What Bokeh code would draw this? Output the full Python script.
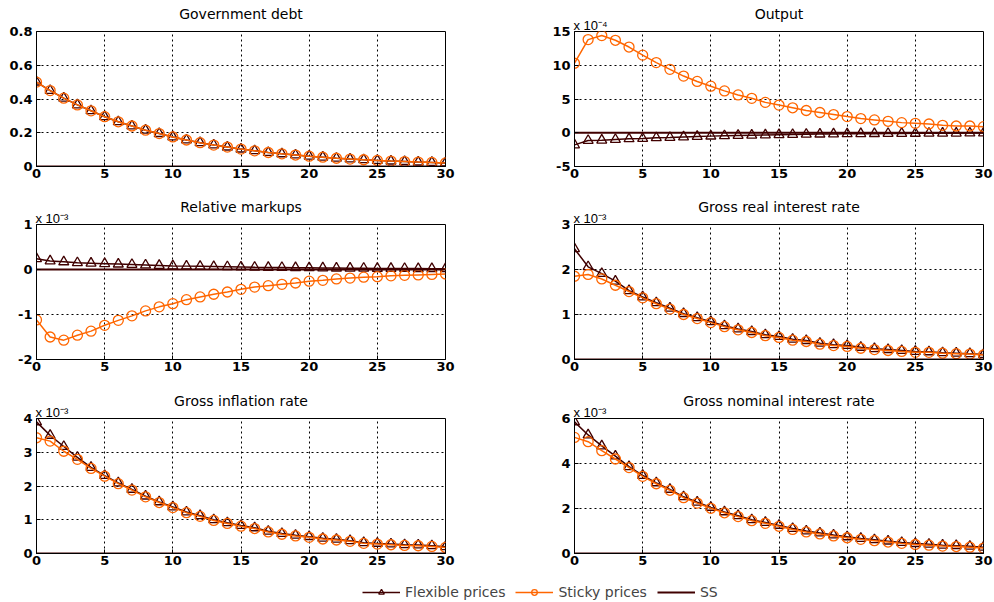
from bokeh.plotting import figure
from bokeh.models import Range1d, FixedTicker, Legend, LegendItem, CustomJSTickFormatter, Title
from bokeh.layouts import column, row
from bokeh.embed import file_html
from bokeh.resources import INLINE

periods = list(range(31))
x_ticks = [0, 5, 10, 15, 20, 25, 30]

debt_flex = [0.50, 0.45, 0.405, 0.365, 0.33, 0.295, 0.265, 0.24, 0.215, 0.195, 0.175, 0.157, 0.141, 0.127, 0.115,
             0.103, 0.093, 0.083, 0.075, 0.068, 0.061, 0.055, 0.049, 0.044, 0.040, 0.036, 0.032, 0.029, 0.026, 0.024, 0.021]
debt_sticky = [0.50, 0.45, 0.405, 0.365, 0.33, 0.295, 0.265, 0.24, 0.215, 0.195, 0.175, 0.157, 0.141, 0.127, 0.115,
               0.103, 0.093, 0.083, 0.075, 0.068, 0.061, 0.055, 0.049, 0.044, 0.040, 0.036, 0.032, 0.029, 0.026, 0.024, 0.021]

output_flex = [-1.8, -1.15, -1.1, -1.0, -0.9, -0.85, -0.75, -0.7, -0.62, -0.55, -0.5, -0.45, -0.4, -0.36, -0.32,
               -0.29, -0.26, -0.23, -0.2, -0.18, -0.16, -0.14, -0.13, -0.11, -0.1, -0.09, -0.08, -0.07, -0.06, -0.05, -0.05]
output_sticky = [10.3, 13.8, 14.4, 13.7, 12.7, 11.5, 10.4, 9.4, 8.4, 7.6, 6.9, 6.2, 5.6, 5.1, 4.5,
                 4.1, 3.7, 3.3, 3.0, 2.7, 2.4, 2.1, 1.9, 1.7, 1.5, 1.4, 1.3, 1.1, 1.0, 1.0, 0.9]

markup_flex = [0.24, 0.19, 0.17, 0.15, 0.14, 0.13, 0.12, 0.11, 0.10, 0.09, 0.08, 0.075, 0.07, 0.065, 0.06,
               0.055, 0.05, 0.047, 0.044, 0.04, 0.037, 0.034, 0.031, 0.029, 0.027, 0.025, 0.023, 0.021, 0.02, 0.019, 0.018]
markup_sticky = [-1.12, -1.50, -1.57, -1.46, -1.37, -1.24, -1.13, -1.03, -0.92, -0.83, -0.76, -0.67, -0.61, -0.55, -0.50,
                 -0.44, -0.39, -0.36, -0.33, -0.30, -0.26, -0.24, -0.21, -0.19, -0.17, -0.16, -0.14, -0.13, -0.12, -0.11, -0.10]

real_flex = [2.46, 2.06, 1.91, 1.74, 1.53, 1.39, 1.26, 1.14, 1.02, 0.93, 0.84, 0.75, 0.68, 0.62, 0.55,
             0.51, 0.45, 0.42, 0.36, 0.33, 0.31, 0.27, 0.24, 0.22, 0.20, 0.18, 0.17, 0.15, 0.14, 0.13, 0.11]
real_sticky = [1.85, 1.89, 1.79, 1.65, 1.51, 1.37, 1.24, 1.12, 1.00, 0.91, 0.82, 0.73, 0.66, 0.60, 0.53,
               0.49, 0.43, 0.40, 0.34, 0.31, 0.29, 0.25, 0.22, 0.20, 0.18, 0.16, 0.16, 0.14, 0.13, 0.12, 0.10]

infl_flex = [3.9, 3.5, 3.17, 2.85, 2.55, 2.31, 2.09, 1.90, 1.70, 1.53, 1.38, 1.23, 1.12, 1.00, 0.91,
             0.83, 0.76, 0.66, 0.59, 0.54, 0.50, 0.45, 0.42, 0.38, 0.32, 0.30, 0.28, 0.26, 0.25, 0.23, 0.20]
infl_sticky = [3.43, 3.33, 3.03, 2.79, 2.52, 2.29, 2.07, 1.88, 1.68, 1.51, 1.36, 1.21, 1.10, 0.98, 0.89,
               0.81, 0.74, 0.64, 0.57, 0.52, 0.48, 0.43, 0.40, 0.36, 0.30, 0.28, 0.26, 0.24, 0.23, 0.21, 0.18]

nom_flex = [5.85, 5.27, 4.78, 4.33, 3.86, 3.47, 3.14, 2.85, 2.52, 2.28, 2.05, 1.85, 1.68, 1.50, 1.38,
            1.25, 1.11, 1.00, 0.91, 0.82, 0.74, 0.67, 0.61, 0.55, 0.49, 0.44, 0.41, 0.37, 0.35, 0.32, 0.28]
nom_sticky = [5.16, 4.97, 4.57, 4.20, 3.82, 3.43, 3.10, 2.81, 2.48, 2.24, 2.01, 1.81, 1.64, 1.46, 1.34,
              1.21, 1.07, 0.96, 0.87, 0.78, 0.70, 0.63, 0.57, 0.51, 0.45, 0.40, 0.37, 0.33, 0.31, 0.28, 0.24]

steady_state = [0.0] * 31

FLEX_C = "#400000"
STICKY_C = "#ff6600"
FONT = "DejaVu Sans"
fmt = CustomJSTickFormatter(code="return String(Math.round(tick * 1000) / 1000);")


def panel(title, flex, sticky, ymin, ymax, yticks, exponent, left, top_border, height):
    if left:
        w, bl, br = 497, 36, 52
    else:
        w, bl, br = 497, 77, 11
    bb = height - top_border - 135
    p = figure(width=w, height=height, x_range=Range1d(0, 30), y_range=Range1d(ymin, ymax),
               output_backend="svg", toolbar_location=None,
               min_border_left=bl, min_border_right=br, min_border_top=top_border,
               min_border_bottom=bb)
    p.title_location = None
    exp_text = ("x 10" + exponent) if exponent else " "
    p.add_layout(Title(text=exp_text, align="left", vertical_align="bottom",
                       standoff=-3, offset=-1, text_font="Liberation Sans", text_font_size="13px",
                       text_font_style="normal", text_color="black"), "above")
    p.add_layout(Title(text=title, align="center", vertical_align="bottom", standoff=-9,
                       text_font=FONT, text_font_size="14px", text_font_style="normal",
                       text_color="black"), "above")
    p.outline_line_color = "black"
    p.outline_line_width = 1
    p.background_fill_color = "white"
    p.border_fill_color = "white"
    for ax in (p.xaxis, p.yaxis):
        ax.axis_line_color = "black"
        ax.major_tick_in = 4
        ax.major_tick_out = 0
        ax.minor_tick_line_color = None
        ax.major_label_text_font = FONT
        ax.major_label_text_font_size = "13px"
        ax.major_label_text_font_style = "bold"
        ax.major_label_text_color = "black"
        ax.formatter = fmt
    p.xaxis.ticker = FixedTicker(ticks=x_ticks)
    p.yaxis.ticker = FixedTicker(ticks=yticks)
    p.xaxis.major_label_standoff = 2
    p.yaxis.major_label_standoff = 4
    p.grid.grid_line_color = "black"
    p.grid.grid_line_dash = "2 3"
    p.grid.grid_line_width = 1

    p.line(periods, flex, line_color=FLEX_C, line_width=1.5)
    p.scatter(periods, flex, marker="triangle", size=10, line_color=FLEX_C, fill_color=None, line_width=1.3)
    p.line(periods, sticky, line_color=STICKY_C, line_width=1.5)
    p.scatter(periods, sticky, marker="circle", size=10, line_color=STICKY_C, fill_color=None, line_width=1.3)
    p.line(periods, steady_state, line_color=FLEX_C, line_width=2)
    return p


EXP3 = "\u207b\u00b3"
EXP4 = "\u207b\u2074"

p1 = panel("Government debt", debt_flex, debt_sticky, 0, 0.8, [0, 0.2, 0.4, 0.6, 0.8], None, True, 31, 194)
p2 = panel("Output", output_flex, output_sticky, -5, 15, [-5, 0, 5, 10, 15], EXP4, False, 31, 194)
p3 = panel("Relative markups", markup_flex, markup_sticky, -2, 1, [-2, -1, 0, 1], EXP3, True, 30, 194)
p4 = panel("Gross real interest rate", real_flex, real_sticky, 0, 3, [0, 1, 2, 3], EXP3, False, 30, 194)
p5 = panel("Gross inflation rate", infl_flex, infl_sticky, 0, 4, [0, 1, 2, 3, 4], EXP3, True, 30, 189)
p6 = panel("Gross nominal interest rate", nom_flex, nom_sticky, 0, 6, [0, 2, 4, 6], EXP3, False, 30, 189)

lg = figure(width=994, height=25, x_range=Range1d(0, 1), y_range=Range1d(0, 1),
            x_axis_type=None, y_axis_type=None, output_backend="svg", toolbar_location=None,
            min_border=0, outline_line_color=None)
lg.grid.visible = False
lx = [5, 6]
ly = [5, 5]
l1 = lg.line(lx, ly, line_color=FLEX_C, line_width=1.5)
s1 = lg.scatter(lx, ly, marker="triangle", size=10, line_color=FLEX_C, fill_color=None, line_width=1.3)
l2 = lg.line(lx, ly, line_color=STICKY_C, line_width=1.5)
s2 = lg.scatter(lx, ly, marker="circle", size=10, line_color=STICKY_C, fill_color=None, line_width=1.3)
l3 = lg.line(lx, ly, line_color=FLEX_C, line_width=2)
legend = Legend(items=[LegendItem(label="Flexible prices", renderers=[l1, s1]),
                       LegendItem(label="Sticky prices", renderers=[l2, s2]),
                       LegendItem(label="SS", renderers=[l3])],
                orientation="horizontal", location=(362, 2), border_line_color=None,
                background_fill_alpha=0, glyph_width=38, glyph_height=14, label_standoff=5,
                spacing=10, padding=2, margin=0, label_text_font=FONT, label_text_font_size="14px",
                label_height=14)
lg.add_layout(legend, "center")

layout = column(row(p1, p2), row(p3, p4), row(p5, p6), lg, spacing=0)
open("out.html", "w").write(file_html(layout, INLINE))
